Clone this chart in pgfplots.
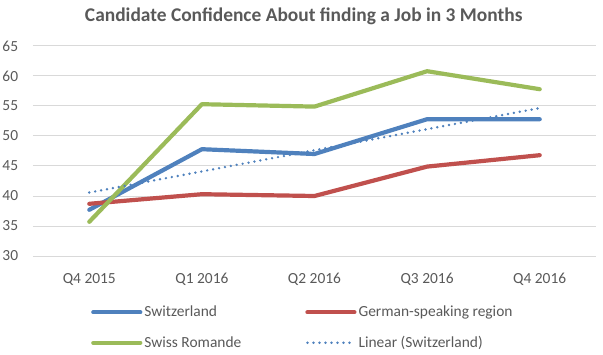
\documentclass[border=0pt]{standalone}
\usepackage{pgfplots}
\pgfplotsset{compat=1.18}
\usepackage{fontspec}
\setmainfont{Carlito}
\definecolor{sblue}{HTML}{4F81BD}
\definecolor{sred}{HTML}{C0504D}
\definecolor{sgreen}{HTML}{9BBB59}
\definecolor{tgray}{HTML}{595959}
\definecolor{ggray}{HTML}{D9D9D9}
\begin{document}
\begin{tikzpicture}
\useasboundingbox (-33bp,-99bp) rectangle (570bp,256bp);
\begin{axis}[
  at={(0,0)}, anchor=south west,
  scale only axis, width=563bp, height=210bp,
  xmin=-0.5, xmax=4.5, ymin=30, ymax=65,
  xtick={0,1,2,3,4},
  xticklabels={Q4 2015,Q1 2016,Q2 2016,Q3 2016,Q4 2016},
  ytick={30,35,...,65},
  ymajorgrids, major grid style={ggray, line width=1bp},
  axis line style={draw=none},
  major tick length=0pt,
  /pgf/number format/assume math mode=true,
  xticklabel style={font=\fontsize{15.5}{17}\selectfont, text=tgray, yshift=-14bp},
  yticklabel style={font=\fontsize{15.5}{17}\selectfont, text=tgray, xshift=-11.4bp},
  legend columns=2,
  legend style={at={(55bp,-46bp)}, anchor=north west, draw=none, fill=none,
    font=\fontsize{15.5}{17}\selectfont, text=tgray, row sep=14bp,
    /tikz/every even column/.append style={column sep=62bp}},
  legend cell align=left,
  legend image code/.code={\draw[#1] (0bp,0bp) -- (47bp,0bp);},
  every axis plot/.append style={line join=round, line cap=round},
]
\addplot[sblue, line width=4.2bp] coordinates {(0,37.7) (1,47.8) (2,47.0) (3,52.8) (4,52.8)};
\addlegendentry{Switzerland}
\addplot[sred, line width=4.2bp] coordinates {(0,38.7) (1,40.3) (2,40.0) (3,44.9) (4,46.8)};
\addlegendentry{German-speaking region}
\addplot[sgreen, line width=4.2bp] coordinates {(0,35.7) (1,55.3) (2,54.9) (3,60.8) (4,57.8)};
\addlegendentry{Swiss Romande}
\addplot[sblue, line width=2.7bp, line cap=round, dash pattern=on 0bp off 6bp] coordinates {(0,40.58) (1,44.10) (2,47.62) (3,51.14) (4,54.66)};
\addlegendentry{Linear (Switzerland)}
\end{axis}
\node[font=\bfseries\fontsize{19.5}{22}\selectfont, text=tgray] at (270.7bp,240bp) {Candidate Confidence About finding a Job in 3 Months};
\end{tikzpicture}
\end{document}
